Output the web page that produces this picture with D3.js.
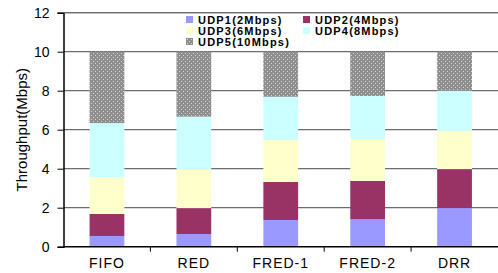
<!DOCTYPE html>
<html>
<head>
<meta charset="utf-8">
<style>
body { margin: 0; background: #fff; }
text { font-family: "Liberation Sans", Arial, sans-serif; }
</style>
</head>
<body>
<div id="chart"></div>
<script src="https://d3js.org/d3.v7.min.js"></script>
<script>
var categories = ["FIFO", "RED", "FRED-1", "FRED-2", "DRR"];
var seriesNames = ["UDP1(2Mbps)", "UDP2(4Mbps)", "UDP3(6Mbps)", "UDP4(8Mbps)", "UDP5(10Mbps)"];
var udp1 = [0.55, 0.65, 1.37, 1.42, 1.98];
var udp2 = [1.13, 1.33, 1.95, 1.95, 2.00];
var udp3 = [1.88, 1.99, 2.15, 2.15, 1.95];
var udp4 = [2.78, 2.70, 2.22, 2.21, 2.07];
var udp5 = [3.66, 3.33, 2.31, 2.27, 2.00];
var yTicks = [0, 2, 4, 6, 8, 10, 12];
var colors = ["#9999ff", "#993366", "#ffffcc", "#ccffff", "url(#dots)"];

var W = 498, H = 273;
var margin = {left: 63.5, right: 0, top: 12.7, bottom: 26.3};

var svg = d3.select("#chart").append("svg")
    .attr("width", W).attr("height", H);

// dotted gray fill for UDP5
var pat = svg.append("defs").append("pattern")
    .attr("id", "dots").attr("patternUnits", "userSpaceOnUse")
    .attr("width", 4).attr("height", 4);
pat.append("rect").attr("width", 4).attr("height", 4).attr("fill", "#8e8e8e");
pat.append("rect").attr("x", 1).attr("y", 1).attr("width", 1).attr("height", 1).attr("fill", "#d8d8d8");
pat.append("rect").attr("x", 3).attr("y", 3).attr("width", 1).attr("height", 1).attr("fill", "#d8d8d8");

var x = d3.scaleBand().domain(categories)
    .range([margin.left, W - margin.right])
    .paddingInner(0.6).paddingOuter(0.3);
var y = d3.scaleLinear().domain([0, 12]).range([H - margin.bottom, margin.top]);

// gridlines
svg.append("g").selectAll("line").data(yTicks.slice(1)).join("line")
    .attr("x1", margin.left).attr("x2", W)
    .attr("y1", d => y(d)).attr("y2", d => y(d))
    .attr("stroke", "#6e6e6e").attr("stroke-width", 1.2);

// stacked bars
var table = categories.map(function (c, i) {
    return {cat: c, s0: udp1[i], s1: udp2[i], s2: udp3[i], s3: udp4[i], s4: udp5[i]};
});
var stack = d3.stack().keys(["s0", "s1", "s2", "s3", "s4"])(table);
svg.append("g").selectAll("g").data(stack).join("g")
    .attr("fill", (d, i) => colors[i])
    .selectAll("rect").data(d => d).join("rect")
    .attr("x", d => x(d.data.cat))
    .attr("width", x.bandwidth())
    .attr("y", d => y(d[1]))
    .attr("height", d => y(d[0]) - y(d[1]));

// y axis
var yAxis = svg.append("g")
    .attr("transform", "translate(" + margin.left + ",0)")
    .call(d3.axisLeft(y).tickValues(yTicks).tickSize(6).tickPadding(8));
yAxis.select(".domain").attr("stroke", "#000").attr("stroke-width", 1.5);
yAxis.selectAll(".tick line").attr("stroke", "#000");
yAxis.selectAll("text").attr("font-size", 14).attr("fill", "#000")
    .attr("font-family", "'Liberation Sans', Arial, sans-serif");

// x axis: ticks between categories
var xAxis = svg.append("g")
    .attr("transform", "translate(0," + y(0) + ")");
xAxis.append("line").attr("x1", margin.left).attr("x2", W)
    .attr("stroke", "#000").attr("stroke-width", 1.5);
var step = x.step();
xAxis.selectAll(".sep").data(categories.slice(1)).join("line")
    .attr("class", "sep")
    .attr("x1", d => x(d) - step * 0.3).attr("x2", d => x(d) - step * 0.3)
    .attr("y1", 0).attr("y2", 5).attr("stroke", "#000");
xAxis.selectAll("text").data(categories).join("text")
    .attr("x", d => x(d) + x.bandwidth() / 2)
    .attr("y", 21)
    .attr("text-anchor", "middle")
    .attr("font-size", 14).attr("letter-spacing", 1)
    .text(d => d);

// top border
svg.append("line").attr("x1", margin.left).attr("x2", W)
    .attr("y1", y(12)).attr("y2", y(12)).attr("stroke", "#6e6e6e").attr("stroke-width", 1.2);

// y title
svg.append("text")
    .attr("transform", "translate(27," + ((y(0) + y(12)) / 2) + ") rotate(-90)")
    .attr("text-anchor", "middle")
    .attr("font-size", 15)
    .text("Throughput(Mbps)");

// legend
var legendPos = [[186, 16], [303, 16], [186, 27], [303, 27], [186, 38]];
var lg = svg.append("g").selectAll("g").data(seriesNames).join("g")
    .attr("transform", (d, i) => "translate(" + legendPos[i][0] + "," + legendPos[i][1] + ")");
lg.append("rect").attr("width", 7).attr("height", 7)
    .attr("fill", (d, i) => colors[i]);
lg.append("text").attr("x", 12).attr("y", 7.5)
    .attr("font-size", 11).attr("font-weight", "bold").attr("letter-spacing", 1.2)
    .text(d => d);
</script>
</body>
</html>
